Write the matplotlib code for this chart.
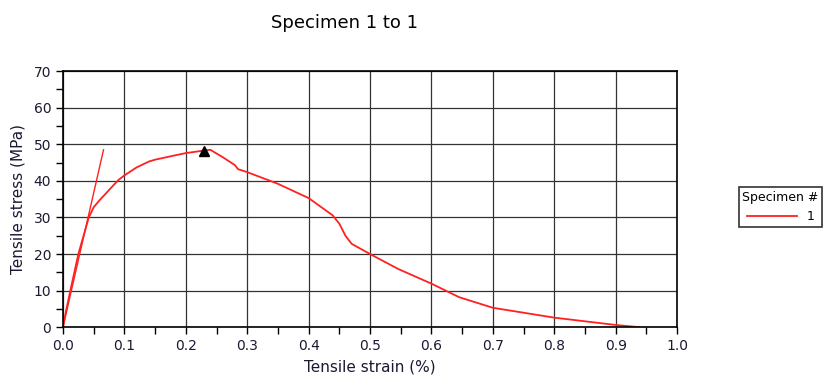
import numpy as np
import matplotlib.pyplot as plt

plt.rcParams['font.family'] = ['DejaVu Sans']

# strain (%) / stress (MPa)
strain = [0.0, 0.005, 0.012, 0.025, 0.042, 0.05, 0.06, 0.07, 0.081, 0.09, 0.1, 0.12, 0.14, 0.15,
          0.18, 0.2, 0.23, 0.24, 0.26, 0.28, 0.285, 0.3, 0.35, 0.4, 0.439, 0.45, 0.46, 0.47,
          0.5, 0.546, 0.6, 0.645, 0.7, 0.8, 0.9, 0.938]
stress = [0.0, 4.5, 10.0, 20.0, 30.0, 32.8, 34.8, 36.6, 38.6, 40.2, 41.5, 43.7, 45.3, 45.8,
          46.9, 47.6, 48.3, 48.5, 46.5, 44.3, 43.2, 42.4, 39.2, 35.3, 30.6, 28.3, 25.0, 22.8,
          20.0, 15.9, 11.9, 8.2, 5.3, 2.6, 0.6, 0.0]

# modulus line
mod_x = [0.0, 0.066]
mod_y = [0.0, 48.5]

# max point
peak_x = [0.23]
peak_y = [48.3]

fig = plt.figure(figsize=(8.4, 3.89), dpi=100)
ax = fig.add_axes([0.075, 0.159, 0.731, 0.658])

ax.plot(strain, stress, color="#ff2020", linewidth=1.3, label="1")
ax.plot(mod_x, mod_y, color="#ff2020", linewidth=1.0)
ax.plot(peak_x, peak_y, marker='^', color="black", markersize=7, linestyle='none')

ax.set_xlim(0, 1.0)
ax.set_ylim(0, 70)
ax.set_xticks(np.arange(0, 1.01, 0.1))
ax.set_xticks(np.arange(0.05, 1.0, 0.1), minor=True)
ax.set_yticks(np.arange(0, 71, 10))
ax.set_yticks(np.arange(5, 70, 10), minor=True)
ax.set_xticklabels(['%.1f' % v for v in np.arange(0, 1.01, 0.1)])
ax.grid(True, which='major', color="#333333", linewidth=0.9)
ax.tick_params(which='both', direction='out', length=5, width=1, color='black',
               labelsize=10, labelcolor="#1a1a33")
for s in ax.spines.values():
    s.set_color('black')
    s.set_linewidth(1.2)

ax.set_xlabel("Tensile strain (%)", fontsize=11, color="#1a1a33", labelpad=5)
ax.set_ylabel("Tensile stress (MPa)", fontsize=11, color="#1a1a33", labelpad=6)

fig.text(0.41, 0.94, "Specimen 1 to 1", ha='center', va='center', fontsize=13)

leg = ax.legend(title="Specimen #", loc='center left', bbox_to_anchor=(1.09, 0.47),
                fancybox=False, edgecolor='black', fontsize=9, title_fontsize=9,
                handlelength=4, borderpad=0.3)
leg.get_frame().set_linewidth(1.2)

plt.savefig('out.png', dpi=100)
